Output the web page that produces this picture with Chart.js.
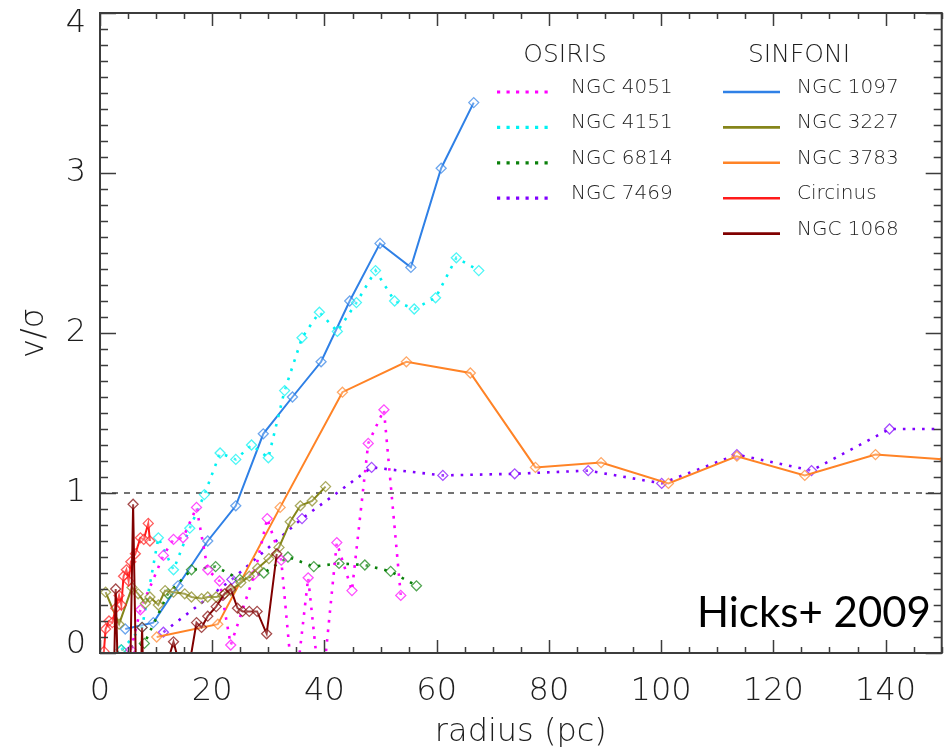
<!DOCTYPE html>
<html>
<head>
<meta charset="utf-8">
<title>v/σ against radius</title>
<script src="https://cdn.jsdelivr.net/npm/chart.js@4.4.1/dist/chart.umd.min.js"></script>
<style>
  html, body { margin: 0; padding: 0; background: #fff; }
  #wrap { width: 948px; height: 754px; }
</style>
</head>
<body>
<div id="wrap"><canvas id="vsig" width="948" height="754"></canvas></div>
<script>
// radius in pc, v/sigma for every nucleus (values below 0 run off the bottom of the plot)
const ngc4051R = [5.5, 7.2, 11.3, 13.1, 14.8, 17.2, 19.2, 21.3, 23.3, 27.5, 29.8, 32.3, 34.6, 37.1, 39.4, 42.2, 44.9, 47.8, 50.6, 53.6];
const ngc4051V = [0.02, 0.27, 0.61, 0.71, 0.72, 0.91, 0.52, 0.45, 0.05, 0.49, 0.84, 0.58, -0.3, 0.47, -0.3, 0.69, 0.39, 1.31, 1.52, 0.36];

const ngc4151R = [3.8, 7.5, 10.4, 13.1, 16.0, 18.6, 21.4, 24.2, 27.0, 30.0, 32.9, 36.0, 39.1, 42.3, 45.7, 49.1, 52.5, 56.0, 59.8, 63.5, 67.5];
const ngc4151V = [0.02, 0.16, 0.72, 0.52, 0.78, 0.99, 1.25, 1.21, 1.30, 1.22, 1.64, 1.97, 2.13, 2.01, 2.19, 2.39, 2.20, 2.15, 2.22, 2.47, 2.39];

const ngc6814R = [3.8, 7.9, 12.1, 16.3, 20.6, 24.9, 29.2, 33.5, 38.1, 42.6, 47.2, 51.8, 56.4];
const ngc6814V = [0.02, 0.06, 0.37, 0.52, 0.54, 0.46, 0.50, 0.60, 0.54, 0.56, 0.55, 0.51, 0.42];

const ngc7469R = [11.3, 23.5, 36.0, 48.4, 61.1, 73.9, 87.0, 100.1, 113.5, 126.8, 140.7, 153.5];
const ngc7469V = [0.13, 0.46, 0.84, 1.16, 1.11, 1.12, 1.14, 1.06, 1.24, 1.14, 1.40, 1.40];

const ngc1097R = [4.5, 9.5, 13.9, 19.2, 24.2, 29.1, 34.3, 39.4, 44.5, 49.9, 55.4, 60.8, 66.6];
const ngc1097V = [0.15, 0.19, 0.42, 0.70, 0.92, 1.37, 1.60, 1.82, 2.20, 2.56, 2.41, 3.03, 3.44];

const ngc3227R = [1.0, 3.4, 5.7, 6.8, 8.1, 8.9, 10.4, 11.6, 13.1, 15.1, 16.3, 18.1, 19.2, 20.7, 21.9, 23.3, 25.1, 26.6, 28.1, 30.1, 31.9, 33.9, 35.7, 37.8, 40.2];
const ngc3227V = [0.38, 0.18, 0.41, 0.37, 0.31, 0.35, 0.30, 0.39, 0.38, 0.37, 0.35, 0.34, 0.35, 0.35, 0.36, 0.39, 0.44, 0.48, 0.53, 0.59, 0.66, 0.82, 0.92, 0.95, 1.04];

const ngc3783R = [10.1, 21.0, 32.1, 43.2, 54.6, 66.0, 77.6, 89.3, 101.3, 113.5, 125.6, 138.2, 150.5];
const ngc3783V = [0.10, 0.18, 0.91, 1.63, 1.82, 1.75, 1.16, 1.19, 1.06, 1.23, 1.11, 1.24, 1.21];

const circinusR = [0.1, 0.7, 1.0, 1.6, 2.2, 2.8, 3.4, 3.8, 4.2, 4.7, 5.1, 5.5, 6.3, 7.2, 7.8, 8.6, 8.9];
const circinusV = [-0.05, 0.01, 0.15, 0.20, 0.19, 0.28, 0.36, 0.30, 0.48, 0.52, 0.45, 0.57, 0.62, 0.72, 0.71, 0.81, 0.70];

const ngc1068R = [2.4, 2.8, 3.3, 5.3, 5.9, 6.5, 7.2, 7.5, 7.8, 12.1, 13.1, 14.0, 15.8, 17.2, 18.1, 19.2, 20.7, 22.2, 23.3, 24.5, 25.4, 26.6, 28.0, 29.7, 31.5];
const ngc1068V = [-0.3, 0.40, -0.3, -0.3, 0.93, -0.3, -0.3, 0.16, -0.3, -0.05, 0.07, -0.05, -0.1, 0.19, 0.16, 0.23, 0.29, 0.37, 0.40, 0.28, 0.26, 0.26, 0.26, 0.12, 0.62];

const xTickValues = [0, 20, 40, 60, 80, 100, 120, 140];
const yTickValues = [0, 1, 2, 3, 4];
const unityLevel = 1;

const osirisNames = ['NGC 4051', 'NGC 4151', 'NGC 6814', 'NGC 7469'];
const sinfoniNames = ['NGC 1097', 'NGC 3227', 'NGC 3783', 'Circinus', 'NGC 1068'];

const colors = {
  'NGC 4051': '#ff00ff',
  'NGC 4151': '#00f2f2',
  'NGC 6814': '#0a800a',
  'NGC 7469': '#8000ff',
  'NGC 1097': '#2f80e6',
  'NGC 3227': '#85851a',
  'NGC 3783': '#ff8326',
  'Circinus': '#ff1a1a',
  'NGC 1068': '#800000'
};

const AXIS_FONT = "'DejaVu Sans', sans-serif";
const AXIS_WEIGHT = '200';
const TEXT_COLOR = '#1e1e1e';

function pts(r, v) {
  return r.map((x, i) => ({ x: x, y: v[i] }));
}

function fade(hex, a) {
  const n = parseInt(hex.slice(1), 16);
  return `rgba(${n >> 16}, ${(n >> 8) & 255}, ${n & 255}, ${a})`;
}

function series(name, r, v, dotted) {
  const c = colors[name];
  return {
    label: name,
    data: pts(r, v),
    borderColor: c,
    borderWidth: dotted ? 2.6 : 2,
    borderDash: dotted ? [2.6, 7] : [],
    borderCapStyle: 'butt',
    pointStyle: 'rectRot',
    pointRadius: 5,
    pointBorderWidth: 1.3,
    pointBorderColor: fade(c, 0.7),
    pointBackgroundColor: 'rgba(255,255,255,0.25)',
    tension: 0,
    fill: false
  };
}

// box, inward ticks on all four sides, and the y labels
const framePlugin = {
  id: 'frame',
  afterDatasetsDraw(chart) {
    const { ctx, chartArea: a, scales: { x, y } } = chart;
    ctx.save();
    ctx.strokeStyle = '#3c3c3c';
    ctx.lineWidth = 2;
    ctx.strokeRect(a.left, a.top, a.right - a.left, a.bottom - a.top);

    ctx.lineWidth = 1.5;
    ctx.beginPath();
    for (let v = 0; v <= 150; v += 5) {
      const px = Math.round(x.getPixelForValue(v)) + 0.5;
      const len = v % 20 === 0 ? 13 : 6;
      ctx.moveTo(px, a.bottom); ctx.lineTo(px, a.bottom - len);
      ctx.moveTo(px, a.top); ctx.lineTo(px, a.top + len);
    }
    for (let k = 0; k <= 40; k++) {
      const py = Math.round(y.getPixelForValue(k / 10)) + 0.5;
      const len = k % 10 === 0 ? 16 : 8;
      ctx.moveTo(a.left, py); ctx.lineTo(a.left + len, py);
      ctx.moveTo(a.right, py); ctx.lineTo(a.right - len, py);
    }
    ctx.stroke();

    ctx.fillStyle = TEXT_COLOR;
    ctx.font = `${AXIS_WEIGHT} 32px ${AXIS_FONT}`;
    ctx.textAlign = 'right';
    ctx.textBaseline = 'middle';
    yTickValues.forEach(v => {
      const py = Math.min(Math.max(y.getPixelForValue(v), a.top + 11), a.bottom - 8);
      ctx.fillText(String(v), a.left - 14, py);
    });
    ctx.restore();
  }
};

// two-column instrument legend and the citation
const legendPlugin = {
  id: 'instrumentLegend',
  afterDraw(chart) {
    const ctx = chart.ctx;
    ctx.save();
    ctx.fillStyle = TEXT_COLOR;
    ctx.textBaseline = 'alphabetic';
    ctx.font = `${AXIS_WEIGHT} 25px ${AXIS_FONT}`;
    ctx.textAlign = 'center';
    ctx.fillText('OSIRIS', 565, 62);
    ctx.fillText('SINFONI', 799, 62);

    ctx.font = `${AXIS_WEIGHT} 20px ${AXIS_FONT}`;
    ctx.textAlign = 'left';
    const drawRows = (names, x0, x1, tx, dotted) => {
      names.forEach((name, i) => {
        const yy = 92 + i * 35.4;
        ctx.strokeStyle = colors[name];
        ctx.lineWidth = dotted ? 3.2 : 2.6;
        ctx.setLineDash(dotted ? [3.2, 6.3] : []);
        ctx.beginPath();
        ctx.moveTo(x0, yy);
        ctx.lineTo(x1, yy);
        ctx.stroke();
        ctx.fillText(name, tx, yy + 1);
      });
    };
    drawRows(osirisNames, 497, 550, 571, true);
    drawRows(sinfoniNames, 723, 780, 797, false);
    ctx.setLineDash([]);

    ctx.fillStyle = '#000';
    ctx.font = "42px Lato, 'Open Sans', sans-serif";
    ctx.fillText('Hicks+ 2009', 697, 627);
    ctx.restore();
  }
};

const datasets = [
  series('NGC 1068', ngc1068R, ngc1068V, false),
  series('Circinus', circinusR, circinusV, false),
  series('NGC 3227', ngc3227R, ngc3227V, false),
  series('NGC 4051', ngc4051R, ngc4051V, true),
  series('NGC 4151', ngc4151R, ngc4151V, true),
  series('NGC 6814', ngc6814R, ngc6814V, true),
  series('NGC 1097', ngc1097R, ngc1097V, false),
  series('NGC 3783', ngc3783R, ngc3783V, false),
  series('NGC 7469', ngc7469R, ngc7469V, true),
  {
    label: 'v/σ = 1',
    data: [{ x: 0, y: unityLevel }, { x: 150, y: unityLevel }],
    borderColor: '#444',
    borderWidth: 1.5,
    borderDash: [6, 6],
    pointRadius: 0
  }
];

const axisTextFont = { family: AXIS_FONT, size: 32, weight: AXIS_WEIGHT };

new Chart(document.getElementById('vsig'), {
  type: 'line',
  data: { datasets },
  options: {
    responsive: false,
    animation: false,
    layout: { padding: { top: 13, right: -3, left: 0, bottom: 0 } },
    plugins: {
      legend: { display: false },
      tooltip: { enabled: false }
    },
    scales: {
      x: {
        type: 'linear',
        min: 0,
        max: 150,
        afterBuildTicks: s => { s.ticks = xTickValues.map(v => ({ value: v })); },
        afterFit: s => { s.height = 101; s.paddingLeft = 0; s.paddingRight = 0; },
        ticks: {
          font: axisTextFont,
          color: TEXT_COLOR,
          padding: 19,
          maxRotation: 0,
          autoSkip: false
        },
        grid: { display: false, drawTicks: false },
        border: { display: false },
        title: {
          display: true,
          text: 'radius (pc)',
          font: axisTextFont,
          color: TEXT_COLOR,
          padding: { top: 0, bottom: 2 }
        }
      },
      y: {
        min: 0,
        max: 4,
        afterFit: s => { s.width = 100; s.paddingTop = 0; s.paddingBottom = 0; },
        ticks: { display: false },
        grid: { display: false, drawTicks: false },
        border: { display: false },
        title: {
          display: true,
          text: 'v/σ',
          font: axisTextFont,
          color: TEXT_COLOR,
          padding: { top: 15, bottom: 0 }
        }
      }
    }
  },
  plugins: [framePlugin, legendPlugin]
});
</script>
</body>
</html>
